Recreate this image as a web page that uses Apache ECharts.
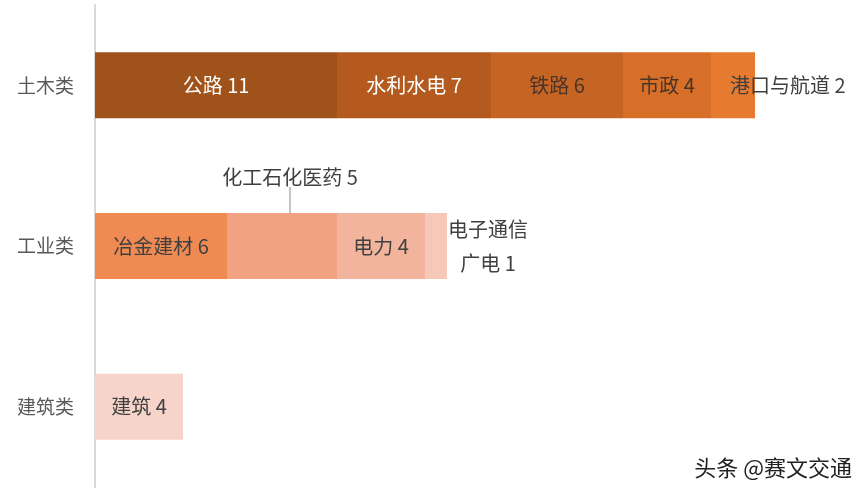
<!DOCTYPE html>
<html>
<head>
<meta charset="utf-8">
<script src="https://cdn.jsdelivr.net/npm/echarts@6/dist/echarts.min.js"></script>
<style>
  html, body { margin: 0; padding: 0; background: #fff; }
  #main { width: 867px; height: 496px; }
</style>
</head>
<body>
<div id="main"></div>
<script>
// categories top to bottom
var categories = ['土木类', '工业类', '建筑类'];

// segments, in stacking order
var segNames = ['公路', '水利水电', '铁路', '市政', '港口与航道', '冶金建材', '化工石化医药', '电力', '电子通信广电', '建筑'];
var segValues = [11, 7, 6, 4, 2, 6, 5, 4, 1, 4];
var segCategory = [0, 0, 0, 0, 0, 1, 1, 1, 1, 2];

var segColors = ['#A0521B', '#B45A1F', '#C66424', '#D86F29', '#E67A2E',
                 '#EF8A52', '#F0A282', '#F2B49C', '#F5C8B9', '#F6D4C9'];

var FONT = '"Noto Sans CJK SC", sans-serif';

function labelFor(i) {
    var base = {
        show: true,
        position: 'inside',
        fontFamily: FONT,
        fontSize: 20,
        color: '#404040'
    };
    var name = segNames[i];
    if (name == '公路' || name == '水利水电') {
        base.color = '#ffffff';
    }
    if (name == '铁路' || name == '市政') {
        base.color = '#4a3428';
    }
    if (name == '港口与航道') {
        base.position = 'insideLeft';
        base.distance = 19;
    }
    if (name == '化工石化医药') {
        // extra room under the text so the guide line starts a bit lower
        base.padding = [0, 0, 9, 0];
    }
    if (name == '电子通信广电') {
        base.position = 'right';
        base.distance = 41;
        base.align = 'center';
        base.lineHeight = 34;
        base.formatter = '电子通信\n广电 {c}';
        return base;
    }
    base.formatter = '{a} {c}';
    return base;
}

var series = [];
for (var i = 0; i < segNames.length; i++) {
    var data = categories.map(function (c, k) {
        return k == segCategory[i] ? segValues[i] : null;
    });
    var s = {
        name: segNames[i],
        type: 'bar',
        stack: 'total',
        barWidth: 66,
        data: data,
        itemStyle: { color: segColors[i] },
        label: labelFor(i),
        emphasis: { disabled: true }
    };
    if (segNames[i] == '化工石化医药') {
        s.labelLayout = { dx: 8, dy: -69 };
        s.labelLine = { show: true, lineStyle: { color: '#8c8c8c', width: 1 } };
    }
    series.push(s);
}

var myChart = echarts.init(document.getElementById('main'));
var option = {
    animation: false,
    backgroundColor: '#ffffff',
    grid: { left: 95, right: 112, top: 5, bottom: 9, containLabel: false },
    xAxis: {
        type: 'value',
        min: 0,
        max: 30,
        show: false
    },
    yAxis: {
        type: 'category',
        inverse: true,
        data: categories,
        axisLine: { show: true, lineStyle: { color: '#d9d9d9', width: 2 } },
        axisTick: { show: false },
        axisLabel: { margin: 21, fontFamily: FONT, fontSize: 19, color: '#595959' }
    },
    graphic: [{
        type: 'text',
        right: 14,
        bottom: 16,
        style: {
            text: '头条 @赛文交通',
            fontFamily: FONT,
            fontSize: 22,
            fill: '#222222',
            stroke: '#ffffff',
            lineWidth: 2
        }
    }],
    series: series
};
myChart.setOption(option);
</script>
</body>
</html>
